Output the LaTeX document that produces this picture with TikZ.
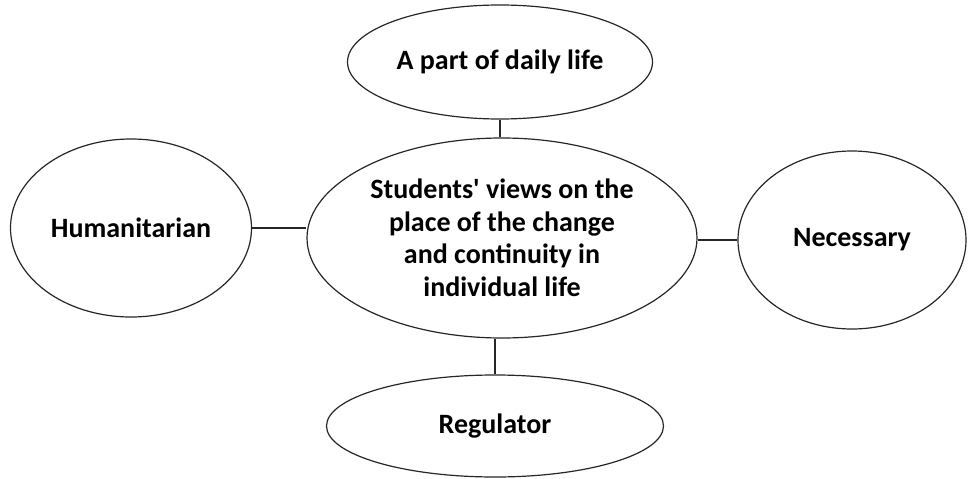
\documentclass[tikz,border=0pt]{standalone}
\usepackage{fontspec}
\setmainfont{Carlito}
\usetikzlibrary{shapes.geometric}
\begin{document}
\begin{tikzpicture}[x=1pt,y=-1pt,line width=1.2pt,draw=black!85]
    \tikzstyle{bubble}=[ellipse,draw,inner sep=0pt,align=center,
      font=\fontsize{28}{32.5}\selectfont\bfseries]
    \useasboundingbox (0,0) rectangle (969,479);

    % central node
    \node[bubble, minimum width=390pt, minimum height=200pt] (C) at (502,238)
      {Students\textquotesingle{} views on the\\place of the change\\and continuity in\\individual life};

    % surrounding nodes
    \node[bubble, minimum width=305pt, minimum height=114pt] (T) at (500,62) {A part of daily life};
    \node[bubble, minimum width=241pt, minimum height=178pt] (L) at (131,228) {Humanitarian};
    \node[bubble, minimum width=228pt, minimum height=178pt] (R) at (852,240) {Necessary};
    \node[bubble, minimum width=337pt, minimum height=102pt] (B) at (495,426) {Regulator};

    % connect the surrounding nodes with the central node
    \draw (T.south) -- (T.south |- C.north);
    \draw (L.east) -- (L.east -| C.west);
    \draw (R.west) -- (R.west -| C.east);
    \draw (B.north) -- (B.north |- C.south);
  \end{tikzpicture}
\end{document}
